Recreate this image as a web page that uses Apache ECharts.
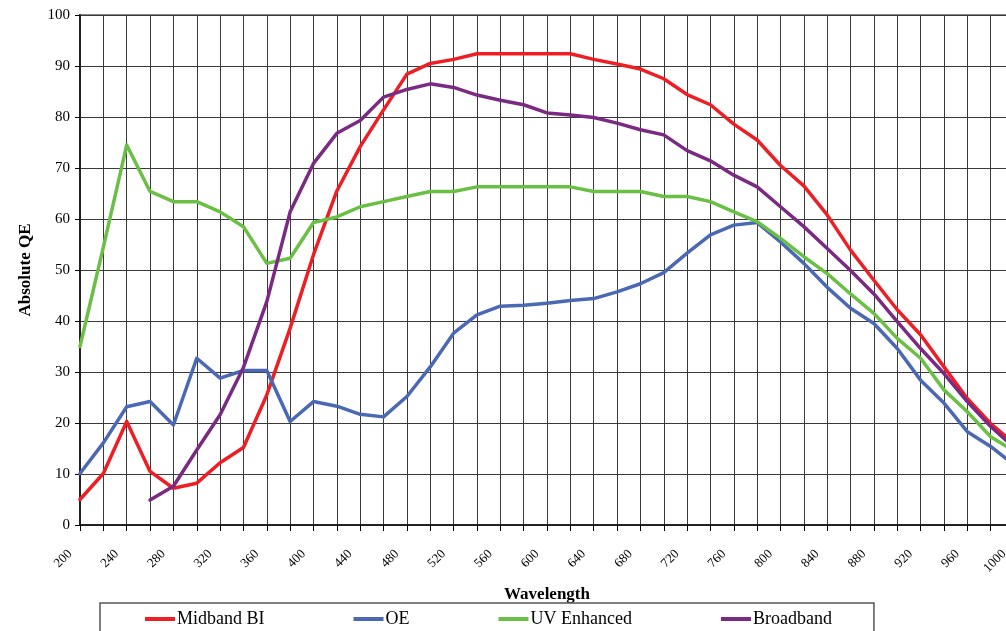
<!DOCTYPE html>
<html>
<head>
<meta charset="utf-8">
<script src="https://cdn.jsdelivr.net/npm/echarts@6/dist/echarts.min.js"></script>
<style>
    html, body { margin: 0; padding: 0; overflow: hidden; background: #fff; }
    #chart { width: 1030px; height: 631px; }
</style>
</head>
<body>
<div id="chart"></div>
<script>
// wavelength categories, 200..1000 nm every 20 nm
const wavelengths = ['200', '220', '240', '260', '280', '300', '320', '340', '360', '380',
    '400', '420', '440', '460', '480', '500', '520', '540', '560', '580',
    '600', '620', '640', '660', '680', '700', '720', '740', '760', '780',
    '800', '820', '840', '860', '880', '900', '920', '940', '960', '980', '1000'];

const midbandBI = [5.0, 10.1, 20.3, 10.5, 7.2, 8.2, 12.2, 15.2, 25.5, 38.6,
    53.0, 65.5, 74.2, 81.4, 88.4, 90.5, 91.3, 92.4, 92.4, 92.4,
    92.4, 92.4, 91.3, 90.4, 89.4, 87.5, 84.4, 82.4, 78.6, 75.5,
    70.5, 66.5, 60.8, 53.9, 48.0, 42.2, 37.3, 31.0, 24.8, 19.9, 16.0];

const oe = [10.1, 16.1, 23.2, 24.2, 19.6, 32.7, 28.8, 30.3, 30.3, 20.3,
    24.2, 23.3, 21.7, 21.2, 25.2, 31.0, 37.6, 41.2, 42.9, 43.1,
    43.5, 44.0, 44.4, 45.7, 47.3, 49.5, 53.3, 56.9, 58.8, 59.3,
    55.5, 51.3, 46.6, 42.5, 39.5, 34.6, 28.4, 23.9, 18.3, 15.4, 11.8];

const uvEnhanced = [35.0, 54.5, 74.5, 65.4, 63.4, 63.4, 61.4, 58.5, 51.3, 52.3,
    59.3, 60.4, 62.4, 63.4, 64.4, 65.4, 65.4, 66.3, 66.3, 66.3,
    66.3, 66.3, 65.4, 65.4, 65.4, 64.4, 64.4, 63.4, 61.4, 59.5,
    56.2, 52.6, 49.3, 45.3, 41.5, 36.6, 32.7, 26.5, 22.2, 17.3, 14.5];

const broadband = ['-', '-', '-', 4.9, 7.6, 14.7, 21.6, 30.9, 43.8, 61.4,
    70.9, 76.8, 79.3, 83.9, 85.4, 86.5, 85.8, 84.3, 83.3, 82.4,
    80.8, 80.4, 79.9, 78.8, 77.5, 76.5, 73.4, 71.4, 68.6, 66.3,
    62.4, 58.5, 54.2, 49.9, 45.3, 39.9, 34.6, 29.7, 24.2, 19.3, 15.2];

const serif = '"Liberation Serif", "Times New Roman", serif';

let myChart = echarts.init(document.getElementById('chart'));

function lineSeries(name, color, data) {
    return {
        name: name,
        type: 'line',
        data: data,
        symbol: 'none',
        color: color,
        lineStyle: {width: 3.5, color: color, cap: 'round', join: 'round'},
        animation: false
    };
}

let option = {
    backgroundColor: '#fff',
    textStyle: {fontFamily: serif, color: '#000'},
    grid: {
        left: 80,
        top: 15,
        right: 16,
        bottom: 106,
        show: true,
        borderColor: '#888',
        borderWidth: 2
    },
    legend: {
        left: 100,
        top: 603,
        padding: [7, 42, 20, 45],
        itemGap: 89,
        itemWidth: 30,
        itemHeight: 4,
        icon: 'rect',
        borderColor: '#555',
        borderWidth: 1.5,
        textStyle: {fontFamily: serif, fontSize: 18, color: '#000', padding: [0, 0, 0, -3]},
        data: ['Midband BI', 'OE', 'UV Enhanced', 'Broadband']
    },
    xAxis: {
        type: 'category',
        data: wavelengths,
        boundaryGap: false,
        name: 'Wavelength',
        nameLocation: 'middle',
        nameGap: 61,
        nameTextStyle: {fontFamily: serif, fontSize: 17, fontWeight: 'bold', color: '#000'},
        axisLine: {lineStyle: {color: '#222', width: 2}},
        axisTick: {show: true, interval: 0, length: 6, lineStyle: {color: '#000'}},
        axisLabel: {
            interval: 1,
            rotate: 45,
            margin: 17,
            padding: [0, 14, 0, 0],
            fontFamily: serif,
            fontSize: 13,
            color: '#000'
        },
        splitLine: {show: true, interval: 0, lineStyle: {color: '#3a3a3a', width: 1}}
    },
    yAxis: {
        type: 'value',
        min: 0,
        max: 100,
        interval: 10,
        name: 'Absolute QE',
        nameLocation: 'middle',
        nameGap: 46,
        nameRotate: 90,
        nameTextStyle: {fontFamily: serif, fontSize: 17, fontWeight: 'bold', color: '#000'},
        axisLine: {show: true, lineStyle: {color: '#222', width: 2}},
        axisTick: {show: true, length: 5, lineStyle: {color: '#000'}},
        axisLabel: {fontFamily: serif, fontSize: 15, color: '#000', margin: 10},
        splitLine: {show: true, lineStyle: {color: '#3a3a3a', width: 1}}
    },
    series: [
        lineSeries('Midband BI', '#ed1f24', midbandBI),
        lineSeries('OE', '#4a68b3', oe),
        lineSeries('UV Enhanced', '#6abf45', uvEnhanced),
        lineSeries('Broadband', '#7b2a83', broadband)
    ]
};

myChart.setOption(option);
</script>
</body>
</html>
